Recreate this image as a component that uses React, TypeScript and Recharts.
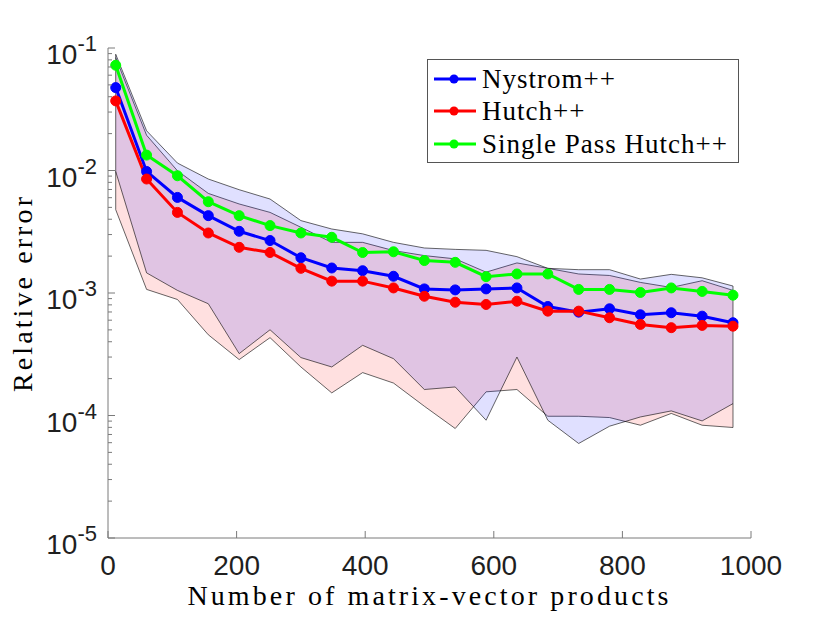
import { ComposedChart, Area, Line, XAxis, YAxis, ReferenceLine, Label } from 'recharts';

// number of matrix-vector products
const matvecs = [12, 60, 108, 156, 204, 252, 300, 348, 396, 444, 492, 540, 588, 636, 684, 732, 780, 828, 876, 924, 972];

// median relative errors
const nystromErr = [0.0475, 0.00982, 0.00603, 0.00428, 0.00319, 0.00268, 0.00194, 0.0016, 0.00152, 0.00137, 0.00108, 0.00106, 0.00108, 0.0011, 0.000776, 0.000698, 0.000743, 0.000664, 0.00069, 0.000647, 0.000572];
const hutchErr = [0.037, 0.00852, 0.00455, 0.00309, 0.00236, 0.00214, 0.00159, 0.00125, 0.00125, 0.0011, 0.000941, 0.000841, 0.000806, 0.000857, 0.000711, 0.000711, 0.000628, 0.000554, 0.000521, 0.000544, 0.000536];
const singlePassErr = [0.0723, 0.01336, 0.00906, 0.00556, 0.00428, 0.00355, 0.00309, 0.00285, 0.00214, 0.00217, 0.00184, 0.00178, 0.00136, 0.00143, 0.00143, 0.00107, 0.00107, 0.00101, 0.0011, 0.00103, 0.00096];

// shaded ranges
const nystromLow = [0.00982, 0.00146, 0.00105, 0.000817, 0.00032, 0.000501, 0.000297, 0.000249, 0.000374, 0.000291, 0.000163, 0.000171, 0.0000915, 0.0003, 0.0000915, 0.0000591, 0.0000818, 0.0000973, 0.000109, 0.0000903, 0.000125];
const nystromHigh = [0.0889, 0.0211, 0.0115, 0.00852, 0.00697, 0.00585, 0.0039, 0.00333, 0.00304, 0.00259, 0.00233, 0.00227, 0.00223, 0.00198, 0.00159, 0.00155, 0.00155, 0.0013, 0.00142, 0.00133, 0.00114];
const hutchLow = [0.00479, 0.00107, 0.000885, 0.000456, 0.000286, 0.000432, 0.000249, 0.000153, 0.000224, 0.000184, 0.000119, 0.0000783, 0.000156, 0.000163, 0.0000986, 0.0000986, 0.0000962, 0.0000833, 0.000104, 0.0000833, 0.0000798];
const hutchHigh = [0.0834, 0.0194, 0.00995, 0.0065, 0.00533, 0.00455, 0.00344, 0.00259, 0.00259, 0.00222, 0.00202, 0.0019, 0.00148, 0.00176, 0.00159, 0.00143, 0.00139, 0.00122, 0.00111, 0.00126, 0.00105];

const xTicks = [0, 200, 400, 600, 800, 1000];
const yMajor = [1e-5, 1e-4, 1e-3, 1e-2, 1e-1];
const yMinor = yMajor.slice(0, -1).flatMap((d) => [2, 3, 4, 5, 6, 7, 8, 9].map((m) => m * d));
const yTicks = [...yMajor, ...yMinor].sort((a, b) => a - b);

const seriesNames = ['Nystrom++', 'Hutch++', 'Single Pass Hutch++'];
const seriesColors = ['#0000ff', '#ff0000', '#00ff00'];

const data = matvecs.map((x, i) => ({
  x,
  nystrom: nystromErr[i],
  hutch: hutchErr[i],
  single: singlePassErr[i],
  nystromBand: [nystromLow[i], nystromHigh[i]],
  hutchBand: [hutchLow[i], hutchHigh[i]],
}));

const AXIS = '#7a7a7a';
const TXT = '#1f1f1f';
const SANS = '"Liberation Sans", Arial, sans-serif';
const SERIF = '"Liberation Serif", "Times New Roman", serif';

const isMajor = (v: number) => yMajor.includes(v);

const LeftTick = ({ x, y, payload }: any) => {
  const major = isMajor(payload.value);
  const exp = Math.round(Math.log10(payload.value));
  return (
    <g>
      <line x1={x} x2={x + (major ? 7 : 4)} y1={y} y2={y} stroke={AXIS} strokeWidth={1} />
      {major && (
        <text x={x - 11} y={y + 16} textAnchor="end" fontFamily={SANS} fontSize={28} fill={TXT}>
          10
          <tspan fontSize={22} dy={-13}>{`-${-exp}`}</tspan>
        </text>
      )}
    </g>
  );
};

const RightTick = ({ x, y, payload }: any) => (
  <line x1={x} x2={x - (isMajor(payload.value) ? 7 : 4)} y1={y} y2={y} stroke={AXIS} strokeWidth={1} />
);

const BottomTick = ({ x, y, payload }: any) => (
  <g>
    <line x1={x} x2={x} y1={y} y2={y - 7} stroke={AXIS} strokeWidth={1} />
    <text x={x} y={y + 37} textAnchor="middle" fontFamily={SANS} fontSize={28} fill={TXT}>
      {payload.value}
    </text>
  </g>
);

const TopTick = ({ x, y }: any) => (
  <line x1={x} x2={x} y1={y} y2={y + 7} stroke={AXIS} strokeWidth={1} />
);

const XTitle = ({ viewBox }: any) => (
  <text
    x={viewBox.x + viewBox.width / 2}
    y={viewBox.y + 67}
    textAnchor="middle"
    fontFamily={SERIF}
    fontSize={28}
    letterSpacing={3.1}
    fill="#000"
  >
    Number of matrix-vector products
  </text>
);

const YTitle = ({ viewBox }: any) => {
  const cy = viewBox.y + viewBox.height / 2;
  return (
    <text
      x={32}
      y={cy}
      transform={`rotate(-90, 32, ${cy})`}
      textAnchor="middle"
      fontFamily={SERIF}
      fontSize={28}
      letterSpacing={3.1}
      fill="#000"
    >
      Relative error
    </text>
  );
};

const first = 0;
const last = matvecs.length - 1;

const LegendBox = () => (
  <div
    style={{
      position: 'absolute',
      left: 427,
      top: 59,
      width: 312,
      height: 104,
      boxSizing: 'border-box',
      border: '1px solid #555',
      background: '#fff',
    }}
  >
    {seriesNames.map((name, i) => (
      <div
        key={name}
        style={{
          position: 'absolute',
          left: 0,
          top: [19, 51, 84][i] - 16,
          height: 32,
          display: 'flex',
          alignItems: 'center',
        }}
      >
        <svg width={54} height={32} style={{ display: 'block' }}>
          <line x1={6} x2={48} y1={16} y2={16} stroke={seriesColors[i]} strokeWidth={3} />
          <circle cx={26} cy={16} r={4.5} fill={seriesColors[i]} />
        </svg>
        <span style={{ fontFamily: SERIF, fontSize: 27, letterSpacing: 1, color: '#000', whiteSpace: 'nowrap', lineHeight: '32px' }}>
          {name}
        </span>
      </div>
    ))}
  </div>
);

export default function App() {
  return (
    <div style={{ position: 'absolute', left: 0, top: 0, width: 830, height: 623, background: '#fff' }}>
      <ComposedChart width={830} height={623} data={data} margin={{ top: 48, right: 79, bottom: 25, left: 0 }}>
        <XAxis
          dataKey="x"
          type="number"
          domain={[0, 1000]}
          ticks={xTicks}
          allowDataOverflow
          height={60}
          interval={0}
          stroke={AXIS}
          tickLine={false}
          tickSize={0}
          tickMargin={0}
          tick={<BottomTick />}
        >
          <Label content={<XTitle />} />
        </XAxis>
        <XAxis
          xAxisId="top"
          orientation="top"
          dataKey="x"
          type="number"
          domain={[0, 1000]}
          ticks={xTicks}
          allowDataOverflow
          height={0}
          interval={0}
          stroke={AXIS}
          tickLine={false}
          tickSize={0}
          tickMargin={0}
          tick={<TopTick />}
        />
        <YAxis
          scale="log"
          domain={[1e-5, 1e-1]}
          ticks={yTicks}
          allowDataOverflow
          width={108}
          interval={0}
          stroke={AXIS}
          tickLine={false}
          tickSize={0}
          tickMargin={0}
          tick={<LeftTick />}
        >
          <Label content={<YTitle />} />
        </YAxis>
        <YAxis
          yAxisId="right"
          orientation="right"
          scale="log"
          domain={[1e-5, 1e-1]}
          ticks={yTicks}
          allowDataOverflow
          width={0}
          interval={0}
          stroke={AXIS}
          tickLine={false}
          tickSize={0}
          tickMargin={0}
          tick={<RightTick />}
        />

        {/* shaded ranges */}
        <Area
          type="linear"
          dataKey="hutchBand"
          fill="#ff0000"
          fillOpacity={0.12}
          stroke="#000"
          strokeWidth={0.6}
          dot={false}
          activeDot={false}
          isAnimationActive={false}
        />
        <Area
          type="linear"
          dataKey="nystromBand"
          fill="#0000ff"
          fillOpacity={0.12}
          stroke="#000"
          strokeWidth={0.6}
          dot={false}
          activeDot={false}
          isAnimationActive={false}
        />
        <ReferenceLine
          segment={[{ x: matvecs[first], y: hutchLow[first] }, { x: matvecs[first], y: nystromHigh[first] }]}
          stroke="#000"
          strokeWidth={0.6}
        />
        <ReferenceLine
          segment={[{ x: matvecs[last], y: hutchLow[last] }, { x: matvecs[last], y: nystromHigh[last] }]}
          stroke="#000"
          strokeWidth={0.6}
        />

        <Line
          type="linear"
          dataKey="nystrom"
          stroke={seriesColors[0]}
          strokeWidth={3}
          dot={{ r: 5, fill: seriesColors[0], stroke: seriesColors[0], strokeWidth: 1 }}
          activeDot={false}
          isAnimationActive={false}
        />
        <Line
          type="linear"
          dataKey="hutch"
          stroke={seriesColors[1]}
          strokeWidth={3}
          dot={{ r: 5, fill: seriesColors[1], stroke: seriesColors[1], strokeWidth: 1 }}
          activeDot={false}
          isAnimationActive={false}
        />
        <Line
          type="linear"
          dataKey="single"
          stroke={seriesColors[2]}
          strokeWidth={3}
          dot={{ r: 5, fill: seriesColors[2], stroke: seriesColors[2], strokeWidth: 1 }}
          activeDot={false}
          isAnimationActive={false}
        />
      </ComposedChart>
      <LegendBox />
    </div>
  );
}
